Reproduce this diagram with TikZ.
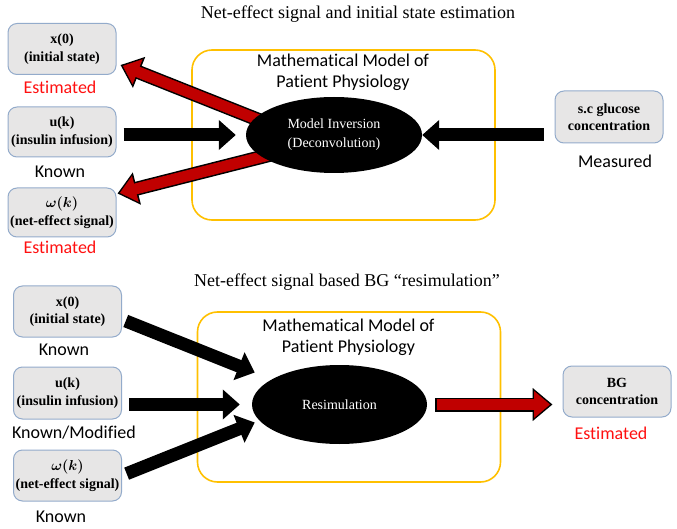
\documentclass[tikz,border=0pt]{standalone}
\usepackage{fontspec}
\setmainfont{Liberation Serif}
\newfontfamily\calibri[Ligatures=NoCommon]{Carlito}
\usepackage{tikz}
\usetikzlibrary{positioning, arrows.meta, shapes.geometric}
\usepackage{xcolor}
\definecolor{boxgray}{HTML}{E7E6E6}
\definecolor{boxblue}{HTML}{93ABCB}
\definecolor{ygold}{HTML}{FFC000}
\definecolor{estred}{HTML}{FF1010}
\definecolor{arrred}{HTML}{C00000}
\pgfdeclarelayer{back}
\pgfdeclarelayer{mid}
\pgfsetlayers{back,mid,main}

\begin{document}
\begin{tikzpicture}[
    x=1pt, y=-1pt,
    box/.style={draw=boxblue, fill=boxgray, rounded corners=9pt, line width=1pt,
        minimum width=108pt, minimum height=51pt, align=center, inner sep=1pt,
        font=\bfseries\fontsize{14}{17.5}\selectfont},
    lbl/.style={font=\calibri\fontsize{18}{20}\selectfont, inner sep=0pt},
    est/.style={lbl, text=estred},
    title/.style={font=\fontsize{18}{20}\selectfont, inner sep=0pt},
    model/.style={draw=ygold, line width=1.6pt, rounded corners=20pt,
        minimum width=303pt, minimum height=170pt},
    modeltext/.style={font=\calibri\fontsize{18}{21}\selectfont, align=center, inner sep=0pt},
    blob/.style={ellipse, fill=black, text=white, inner sep=0pt, align=center,
        minimum width=176pt, minimum height=78pt, font=\fontsize{14}{19}\selectfont},
    fatarrow/.style={draw=black, line width=13pt, -{Triangle[length=17pt,width=29pt]}},
    redarrow/.style={draw=arrred, line width=11pt, -{Triangle[length=16pt,width=26pt]},
        shorten >=2.4pt, shorten <=1.5pt,
        preaction={draw=black, line width=14pt, -{Triangle[length=20pt,width=32pt]},
            shorten >=0pt, shorten <=0pt}}
]
\useasboundingbox (0,0) rectangle (677,529);

% Top - net-effect signal and initial state estimation
\node[title] (titleA) at (358,14) {Net-effect signal and initial state estimation};

% Inputs / outputs
\node[box] (x0) at (62,49) {x(0)\\(initial state)};
\node[est] (x0lbl) at (60,87) {Estimated};
\node[box, minimum height=50pt] (uk) at (62,132) {u(k)\\(insulin infusion)};
\node[lbl] (uklbl) at (60,172) {Known};
\node[box, minimum height=49pt] (wk) at (62,212.5) {{\boldmath$\omega(k)$}\\(net-effect signal)};
\node[est] (wklbl) at (60,247) {Estimated};
\node[box, minimum height=52pt] (sc) at (609,117) {s.c glucose\\concentration};
\node[lbl] (sclbl) at (615,161) {Measured};

% Model
\begin{pgfonlayer}{back}
    \node[model] (mdlA) at (343.5,135) {};
\end{pgfonlayer}
\node[modeltext] (mdlAtxt) at (343,72.5) {Mathematical Model of\\Patient Physiology};
\node[blob, minimum height=76pt] (inv) at (334,135) {Model Inversion\\(Deconvolution)};

% Arrows
\begin{pgfonlayer}{mid}
    \draw[fatarrow, shorten <=7pt, shorten >=10pt] (uk.east |- inv.west) -- (inv.west);
    \draw[fatarrow, shorten <=11pt] (sc.west |- inv.east) -- (inv.east);
    \draw[redarrow] ([shift={(-45pt,3pt)}]inv.center) -- ([shift={(4pt,10pt)}]x0.south east);
    \draw[redarrow] ([shift={(-45pt,-15pt)}]inv.center) -- ([shift={(1pt,-6pt)}]wk.north east);
\end{pgfonlayer}

% Bottom - BG resimulation
\node[title] (titleB) at (347,282) {Net-effect signal based BG “resimulation”};

\node[box] (x0b) at (67.5,311.5) {x(0)\\(initial state)};
\node[lbl] (x0blbl) at (64,350) {Known};
\node[box, minimum height=52pt] (ukb) at (67.5,393) {u(k)\\(insulin infusion)};
\node[lbl] (ukblbl) at (74,433) {Known/Modified};
\node[box] (wkb) at (67.5,475.5) {{\boldmath$\omega(k)$}\\(net-effect signal)};
\node[lbl] (wkblbl) at (61,517) {Known};
\node[box] (bg) at (617,391.5) {BG\\concentration};
\node[est] (bglbl) at (611,433) {Estimated};

\begin{pgfonlayer}{back}
    \node[model] (mdlB) at (349,397) {};
\end{pgfonlayer}
\node[modeltext] (mdlBtxt) at (348.5,337.5) {Mathematical Model of\\Patient Physiology};
\node[blob, minimum width=175pt, minimum height=79pt] (res) at (339.5,404.5) {Resimulation};

\begin{pgfonlayer}{mid}
    \draw[fatarrow, shorten <=4pt] ([yshift=-8pt]x0b.east) -- ([shift={(3pt,32pt)}]res.west);
    \draw[fatarrow, shorten <=7pt, shorten >=12pt] (ukb.east |- res.west) -- (res.west);
    \draw[fatarrow, shorten <=5pt] (wkb.east) -- ([shift={(3pt,-18pt)}]res.west);
    \draw[redarrow] ([xshift=8pt]res.east) -- ([xshift=-10pt]bg.west |- res.east);
\end{pgfonlayer}

\end{tikzpicture}
\end{document}
